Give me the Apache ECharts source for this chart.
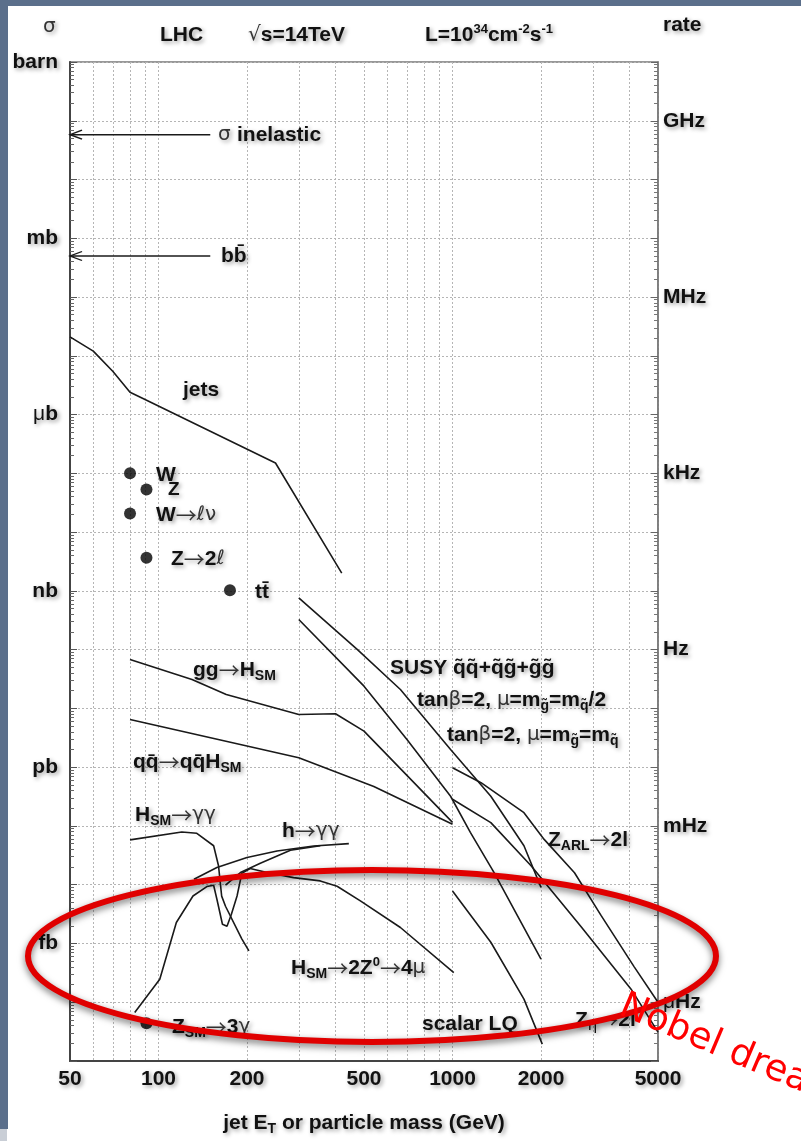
<!DOCTYPE html>
<html><head><meta charset="utf-8">
<script src="https://cdn.jsdelivr.net/npm/echarts@6/dist/echarts.min.js"></script>
<style>html,body{margin:0;padding:0;background:#fff;}#c{width:801px;height:1141px;}</style>
</head><body><div id="c"></div>
<script>
// ---------- axis definitions ----------
const xGridValues = [50,60,70,80,90,100,200,300,400,500,600,700,800,900,1000,2000,3000,4000,5000];
const xLabelValues = [50,100,200,500,1000,2000,5000];
const xMin = 50, xMax = 5000;
// cross section axis in pb (log10): 1e-5 pb .. 1e12 pb (= 1 barn)
const yMinExp = -5, yMaxExp = 12;
const xsecUnitExp = [12, 9, 6, 3, 0, -3];
const xsecUnitNames = ['barn', 'mb', 'μb', 'nb', 'pb', 'fb'];
const rateUnitExp = [11, 8, 5, 2, -1, -4];
const rateUnitNames = ['GHz', 'MHz', 'kHz', 'Hz', 'mHz', 'μHz'];

// ---------- data (mass/E_T in GeV, cross section in pb) ----------
const jetsMass = [50, 60, 70, 80, 90, 250, 420];
const jetsXsec = [2.1e7, 1.2e7, 5.4e6, 2.4e6, 1.8e6, 1.5e5, 2.0e3];

const ggHMass = [80, 130, 170, 300, 400, 500, 1000];
const ggHXsec = [68, 31, 17.3, 7.9, 8.1, 4.1, 0.115];

const qqHMass = [80, 300, 540, 1000];
const qqHXsec = [6.5, 1.45, 0.47, 0.107];

const susyHalfMass = [300, 475, 665, 985, 1350, 1750, 2000];
const susyHalfXsec = [760, 100, 21, 2.0, 0.32, 0.046, 0.009];

const susyEqMass = [300, 500, 700, 985, 1150, 1385, 2000];
const susyEqXsec = [326, 23.9, 2.97, 0.32, 0.078, 0.016, 5.4e-4];

const zArlMass = [1000, 1250, 1750, 2050, 2600, 3200, 4150, 5000];
const zArlXsec = [0.98, 0.545, 0.168, 0.059, 0.016, 3.0e-3, 4.0e-4, 1.0e-4];

const zEtaMass = [1000, 1350, 1850, 2730, 4050, 5000];
const zEtaXsec = [0.284, 0.114, 0.021, 1.97e-3, 1.67e-4, 3.1e-5];

const lqMass = [1000, 1350, 1750, 2020];
const lqXsec = [7.8e-3, 1.05e-3, 1.13e-4, 1.94e-5];

const hggSmMass = [80, 120, 135, 154, 160, 164, 169, 192, 203];
const hggSmXsec = [0.058, 0.079, 0.075, 0.046, 0.021, 6.4e-3, 4.3e-3, 1.2e-3, 7.5e-4];

const h4muMass = [83, 101, 115, 131, 146, 154, 158, 165, 171, 177, 185, 192, 205, 234, 288, 355, 405, 486, 665, 1010];
const h4muXsec = [6.7e-5, 2.47e-4, 2.27e-3, 6.43e-3, 9.3e-3, 9.8e-3, 5.65e-3, 2.12e-3, 1.96e-3, 3.14e-3, 6.43e-3, 0.0156, 0.0188, 0.0161, 0.0132, 0.0116, 9.4e-3, 5.3e-3, 1.87e-3, 3.2e-4];

const hggMssmAMass = [132, 158, 200, 253, 337, 444];
const hggMssmAXsec = [0.0124, 0.0196, 0.029, 0.0375, 0.0456, 0.05];

const hggMssmBMass = [169, 190, 222, 281, 355];
const hggMssmBXsec = [9.8e-3, 0.0161, 0.0231, 0.0385, 0.046];

const dotNames = ['W', 'Z', 'W→ℓν', 'Z→2ℓ', 'tt', 'Z→3γ'];
const dotMass = [80, 91, 80, 91, 175, 91];
const dotXsec = [1.0e5, 5.3e4, 2.07e4, 3650, 1025, 4.4e-5];

const arrowMass = [50, 150];
const sigmaInelastic = 5.8e10;
const sigmaBB = 5.0e8;

// ---------- helpers ----------
const L = Math.log10;
const FONT = '"Liberation Sans", "DejaVu Sans", Arial, sans-serif';
const SYM = '"DejaVu Sans", "Liberation Sans", sans-serif';
const ARR = '"Noto Sans CJK SC", "DejaVu Sans", sans-serif';
const SH = {textShadowColor: 'rgba(0,0,0,0.38)', textShadowBlur: 4, textShadowOffsetX: 2, textShadowOffsetY: 2};
function pts(m, s) { return m.map((v, i) => [L(v), L(s[i])]); }
function tok(o) { return Object.assign({fontFamily: FONT, fill: '#111', color: '#111'}, SH, o); }
const rich = {
  b: tok({fontSize: 21, fontWeight: 'bold'}),
  n: tok({fontSize: 20, fontWeight: 'normal', fontFamily: SYM, fill: '#333', color: '#333'}),
  a: tok({fontSize: 21, fontWeight: 'normal', fontFamily: ARR, fill: '#333', color: '#333'}),
  s: tok({fontSize: 14, fontWeight: 'bold', padding: [12, 0, 0, 0]}),
  sn: tok({fontSize: 15, fontWeight: 'normal', fontFamily: SYM, padding: [12, 0, 0, 0]}),
  p: tok({fontSize: 13, fontWeight: 'bold', padding: [0, 0, 12, 0]}),
  z: tok({fontSize: 19, fontWeight: 'bold'})
};
function label(x, y, text, extra) {
  return {type: 'text', x: x, y: y, z: 50, silent: true,
    style: Object.assign({text: text, rich: rich, fontFamily: FONT, fontSize: 21, fontWeight: 'bold',
      fill: '#111', verticalAlign: 'middle', align: 'left'}, SH, extra || {})};
}
function curve(m, s) {
  return {type: 'line', data: pts(m, s), symbol: 'none', silent: true,
    lineStyle: {color: '#1a1a1a', width: 1.6}, z: 5};
}
function arrow(sig) {
  return {type: 'line', silent: true, z: 5, lineStyle: {color: '#1a1a1a', width: 1.5},
    data: [
      {value: [L(arrowMass[0]), L(sig)], symbol: 'path://M10,0 L0,5 L10,10', symbolSize: [12, 9], symbolOffset: [6, 0],
        itemStyle: {color: 'rgba(0,0,0,0)', borderColor: '#1a1a1a', borderWidth: 1.5}},
      {value: [L(arrowMass[1]), L(sig)], symbol: 'none'}
    ]};
}
const minorExp = [];
for (let e = yMinExp; e < yMaxExp; e++) for (let k = 2; k <= 9; k++) minorExp.push(e + L(k));

const axisLabelStyle = Object.assign({fontFamily: FONT, fontSize: 21, fontWeight: 'bold', color: '#111',
  rich: {n: tok({fontSize: 21, fontWeight: 'normal', color: '#111', fill: '#111'})}}, SH);

const chart = echarts.init(document.getElementById('c'), null, {renderer: 'canvas'});
chart.setOption({
  animation: false,
  backgroundColor: '#ffffff',
  grid: {left: 70, right: 143, top: 62, bottom: 79, show: true, borderColor: '#777', borderWidth: 1.5},
  xAxis: {
    type: 'value', min: L(xMin), max: L(xMax),
    axisLine: {show: true, onZero: false, lineStyle: {color: '#444', width: 2}},
    axisTick: {show: false, customValues: xGridValues.map(L)},
    axisLabel: Object.assign({customValues: xLabelValues.map(L), margin: 8,
      formatter: v => String(Math.round(Math.pow(10, v)))}, axisLabelStyle),
    splitLine: {show: true, lineStyle: {color: '#b5b5b5', width: 1, type: [2, 2]}},
    name: '{b|jet E}{s|T}{b| or particle mass (GeV)}', nameLocation: 'middle', nameGap: 49,
    nameTextStyle: {rich: rich}
  },
  yAxis: [
    {type: 'value', position: 'left', min: yMinExp, max: yMaxExp, interval: 1,
      axisLine: {show: true, onZero: false, lineStyle: {color: '#444', width: 2}},
      axisTick: {show: true, inside: true, length: 7, lineStyle: {color: '#555'}},
      axisLabel: Object.assign({margin: 12, formatter: v => {
        const i = xsecUnitExp.indexOf(Math.round(v));
        return i < 0 ? '' : xsecUnitNames[i].replace('μ', '{n|μ}');
      }}, axisLabelStyle),
      splitLine: {show: true, lineStyle: {color: '#b5b5b5', width: 1, type: [2, 2]}}},
    {type: 'value', position: 'left', min: yMinExp, max: yMaxExp,
      axisLine: {show: false}, axisLabel: {show: false}, splitLine: {show: false},
      axisTick: {show: true, inside: true, length: 4, customValues: minorExp, lineStyle: {color: '#666'}}},
    {type: 'value', position: 'right', min: yMinExp, max: yMaxExp, interval: 1,
      axisLine: {show: true, onZero: false, lineStyle: {color: '#777', width: 1.5}},
      axisTick: {show: true, inside: true, length: 7, lineStyle: {color: '#666'}},
      axisLabel: Object.assign({margin: 5, formatter: v => {
        const i = rateUnitExp.indexOf(Math.round(v));
        return i < 0 ? '' : rateUnitNames[i].replace('μ', '{n|μ}');
      }}, axisLabelStyle),
      splitLine: {show: false}},
    {type: 'value', position: 'right', min: yMinExp, max: yMaxExp,
      axisLine: {show: false}, axisLabel: {show: false}, splitLine: {show: false},
      axisTick: {show: true, inside: true, length: 4, customValues: minorExp, lineStyle: {color: '#777'}}}
  ],
  series: [
    curve(jetsMass, jetsXsec),
    curve(ggHMass, ggHXsec),
    curve(qqHMass, qqHXsec),
    curve(susyHalfMass, susyHalfXsec),
    curve(susyEqMass, susyEqXsec),
    curve(zArlMass, zArlXsec),
    curve(zEtaMass, zEtaXsec),
    curve(lqMass, lqXsec),
    curve(hggSmMass, hggSmXsec),
    curve(h4muMass, h4muXsec),
    curve(hggMssmAMass, hggMssmAXsec),
    curve(hggMssmBMass, hggMssmBXsec),
    arrow(sigmaInelastic),
    arrow(sigmaBB),
    {type: 'scatter', silent: true, symbolSize: 12, itemStyle: {color: '#000'}, z: 6,
      data: dotMass.map((m, i) => ({name: dotNames[i], value: [L(m), L(dotXsec[i])]}))}
  ],
  graphic: [
    {type: 'rect', shape: {x: 0, y: 0, width: 801, height: 6}, style: {fill: '#5b6f8b'}, z: 100, silent: true},
    {type: 'rect', shape: {x: 0, y: 0, width: 8, height: 1129}, style: {fill: '#5b6f8b'}, z: 100, silent: true},
    {type: 'rect', shape: {x: 0, y: 1129, width: 7, height: 12}, style: {fill: '#c9ced6'}, z: 100, silent: true},
    label(43, 27, '{n|σ}'),
    label(160, 35, '{b|LHC}'),
    label(248, 35, '{n|√}{b|s=14TeV}'),
    label(425, 35, '{b|L=10}{p|34}{b|cm}{p|-2}{b|s}{p|-1}'),
    label(663, 25, '{b|rate}'),
    label(218, 135, '{n|σ }{b|inelastic}'),
    label(221, 256, '{b|bb\u0304}'),
    label(183, 390, '{b|jets}'),
    label(156, 475, '{b|W}'),
    label(168, 490, '{z|Z}'),
    label(156, 515, '{b|W}{a|→}{n|ℓν}'),
    label(171, 559, '{b|Z}{a|→}{b|2}{n|ℓ}'),
    label(255, 592, '{b|tt\u0304}'),
    label(193, 670, '{b|gg}{a|→}{b|H}{s|SM}'),
    label(133, 762, '{b|qq\u0304}{a|→}{b|qq\u0304H}{s|SM}'),
    label(135, 815, '{b|H}{s|SM}{a|→}{n|γγ}'),
    label(282, 831, '{b|h}{a|→}{n|γγ}'),
    label(291, 968, '{b|H}{s|SM}{a|→}{b|2Z}{p|0}{a|→}{b|4}{n|μ}'),
    label(172, 1027, '{b|Z}{s|SM}{a|→}{b|3}{n|γ}'),
    label(390, 668, '{b|SUSY q\u0303q\u0303+q\u0303g\u0303+g\u0303g\u0303}'),
    label(417, 700, '{b|tan}{n|β}{b|=2, }{n|μ}{b|=m}{s|g\u0303}{b|=m}{s|q\u0303}{b|/2}'),
    label(447, 735, '{b|tan}{n|β}{b|=2, }{n|μ}{b|=m}{s|g\u0303}{b|=m}{s|q\u0303}'),
    label(548, 840, '{b|Z}{s|ARL}{a|→}{b|2l}'),
    label(422, 1024, '{b|scalar LQ}'),
    label(575, 1020, '{b|Z}{sn|η}{a|→}{b|2l}'),
    {type: 'ellipse', z: 80, silent: true, shape: {cx: 372, cy: 956, rx: 344, ry: 86},
      style: {fill: 'none', stroke: '#e00000', lineWidth: 6, shadowBlur: 7, shadowColor: 'rgba(0,0,0,0.55)', shadowOffsetY: 3}},
    {type: 'text', z: 90, silent: true, x: 614, y: 1022, rotation: -0.40,
      style: {text: 'Nobel dream', fontFamily: '"DejaVu Sans", sans-serif', fontSize: 37, fill: '#ff0000',
        align: 'left', verticalAlign: 'bottom'}}
  ]
});
</script></body></html>
